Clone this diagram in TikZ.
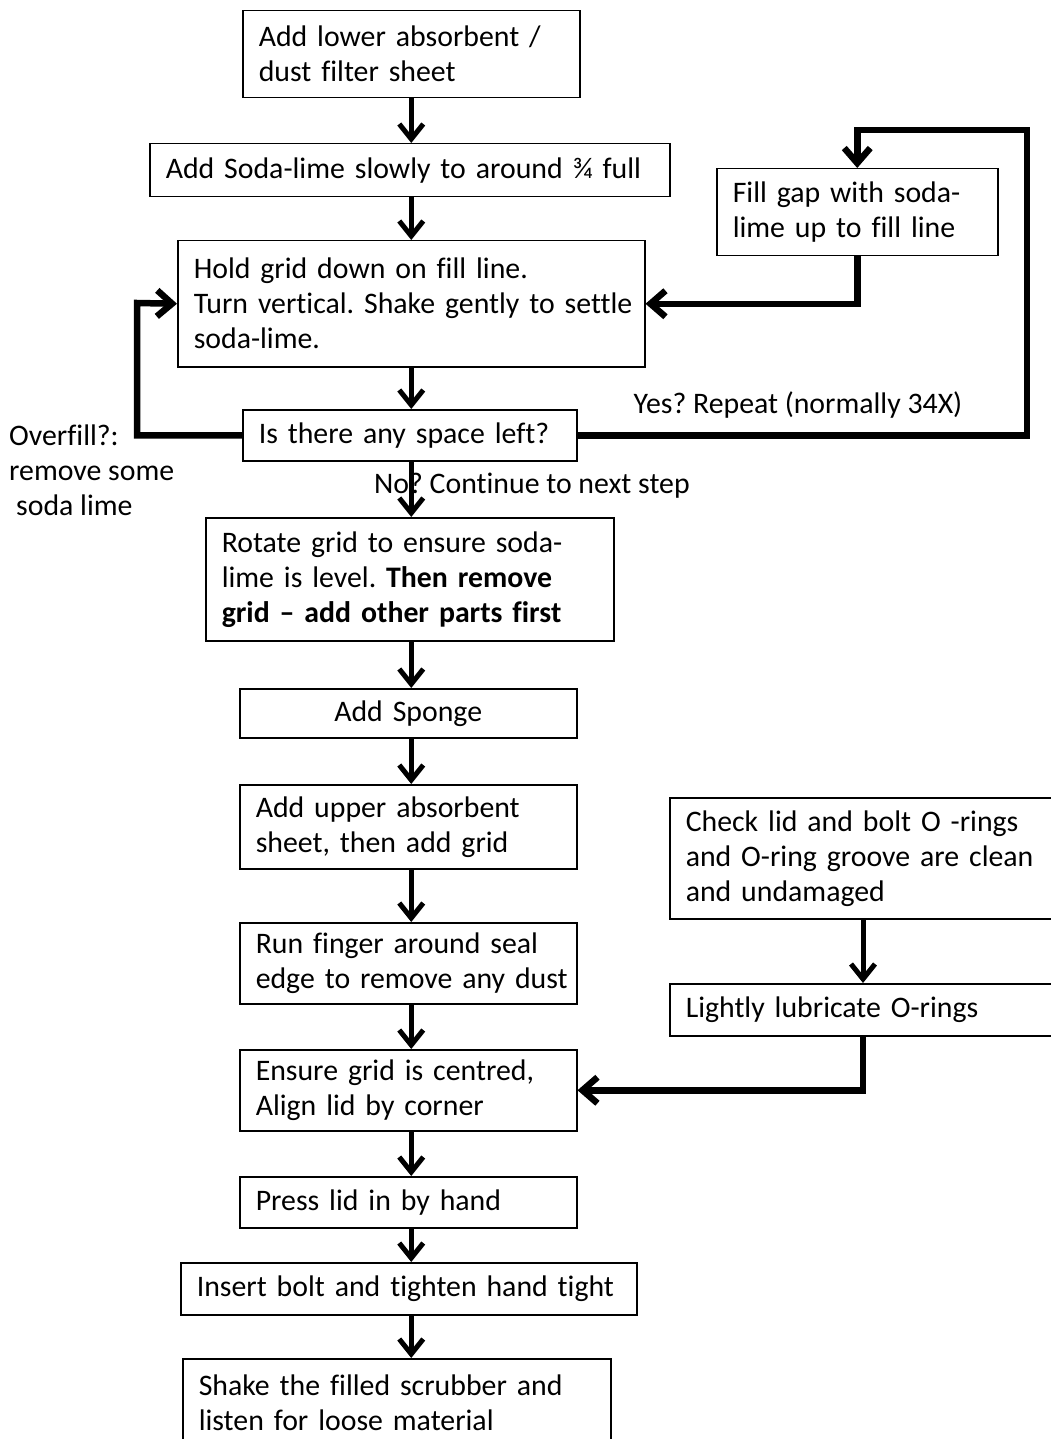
\documentclass[tikz,border=0pt]{standalone}
\usepackage{fontspec}
\setmainfont[Ligatures={NoCommon}]{Carlito}
\usetikzlibrary{arrows.meta}
\newcommand\oneln[1]{\mbox{#1}}
\tikzset{
  box/.style={draw, line width=1.5pt, anchor=north west, inner xsep=16pt, inner ysep=0pt,
    align=left, font=\fontsize{29.8}{35}\selectfont\frenchspacing},
  lbl/.style={inner sep=0pt, align=left, font=\fontsize{29.8}{35}\selectfont\frenchspacing},
  conn/.style={line width=5pt, -{Straight Barb[length=15pt,width=24pt]}},
  loop/.style={line width=6.5pt, -{Straight Barb[length=15pt,width=26pt]}},
}
\begin{document}
\begin{tikzpicture}[x=1pt,y=-1pt]
\useasboundingbox (0,0) rectangle (1051,1439);
\clip (0,0) rectangle (1051,1439);

\node[box, minimum width=337, minimum height=87, text width=305] (b1) at (242,10)
  {\oneln{Add lower absorbent /}\\\oneln{dust filter sheet}};
\node[box, minimum width=520, minimum height=53, text width=488] (b2) at (149,143)
  {\oneln{Add Soda-lime slowly to around ¾ full}};
\node[box, minimum width=467, minimum height=126, text width=435] (b3) at (177,240)
  {\oneln{Hold grid down on fill line.}\\\oneln{Turn vertical. Shake gently to settle}\\\oneln{soda-lime.}};
\node[box, minimum width=334, minimum height=51, text width=302] (b4) at (242,409)
  {\oneln{Is there any space left?}};
\node[box, minimum width=281, minimum height=87, text width=249] (bf) at (716,168)
  {\oneln{Fill gap with soda-}\\\oneln{lime up to fill line}};
\node[box, minimum width=408, minimum height=123, text width=376] (b5) at (205,517)
  {\oneln{Rotate grid to ensure soda-}\\\oneln{lime is level. \textbf{Then remove}}\\\oneln{\textbf{grid – add other parts first}}};
\node[box, minimum width=337, minimum height=49, text width=305, align=center] (b6) at (239,688)
  {\oneln{Add Sponge}};
\node[box, minimum width=337, minimum height=84, text width=305] (b7) at (239,784)
  {\oneln{Add upper absorbent}\\\oneln{sheet, then add grid}};
\node[box, minimum width=337, minimum height=81, text width=305] (b8) at (239,922)
  {\oneln{Run finger around seal}\\\oneln{edge to remove any dust}};
\node[box, minimum width=337, minimum height=81, text width=305] (b9) at (239,1049)
  {\oneln{Ensure grid is centred,}\\\oneln{Align lid by corner}};
\node[box, minimum width=337, minimum height=51, text width=305] (b10) at (239,1176)
  {\oneln{Press lid in by hand}};
\node[box, minimum width=456, minimum height=52, text width=424] (b11) at (180,1262)
  {\oneln{Insert bolt and tighten hand tight}};
\node[box, minimum width=428, minimum height=88, text width=396] (b12) at (182,1358)
  {\oneln{Shake the filled scrubber and}\\\oneln{listen for loose material}};
\node[box, minimum width=401, minimum height=121, text width=369] (bc) at (669,797)
  {\oneln{Check lid and bolt O -rings}\\\oneln{and O-ring groove are clean}\\\oneln{and undamaged}};
\node[box, minimum width=401, minimum height=52, text width=369] (bl) at (669,983)
  {\oneln{Lightly lubricate O-rings}};

% labels
\node[lbl, anchor=west] (lov) at (9,470) {Overfill?:\\remove some\\\hspace*{7pt}soda lime};
\node[lbl] (lyes) at (798,405) {Yes? Repeat (normally 34X)};
\node[lbl] (lno) at (532,486) {No? Continue to next step};

% main column arrows
\foreach \a/\b in {b1/b2,b2/b3,b3/b4,b4/b5,b5/b6,b6/b7,b7/b8,b8/b9,b9/b10,b10/b11,b11/b12}
  \draw[conn] (\a.south -| b1.south) -- (\b.north -| b1.south);

% repeat loop
\coordinate (yr) at (1027,130);
\draw[loop] (b4.east) -| (yr) -| (bf.north);
\draw[loop] (bf.south) |- (b3.east);

% overfill loop
\coordinate (ov) at (137,303);
\draw[loop] (b4.west) -| (ov) -- (b3.west);

% right column
\coordinate (xr) at (863,0);
\draw[conn] (bc.south -| xr) -- (bl.north -| xr);
\draw[loop] (bl.south -| xr) |- (b9.east);
\end{tikzpicture}
\end{document}
